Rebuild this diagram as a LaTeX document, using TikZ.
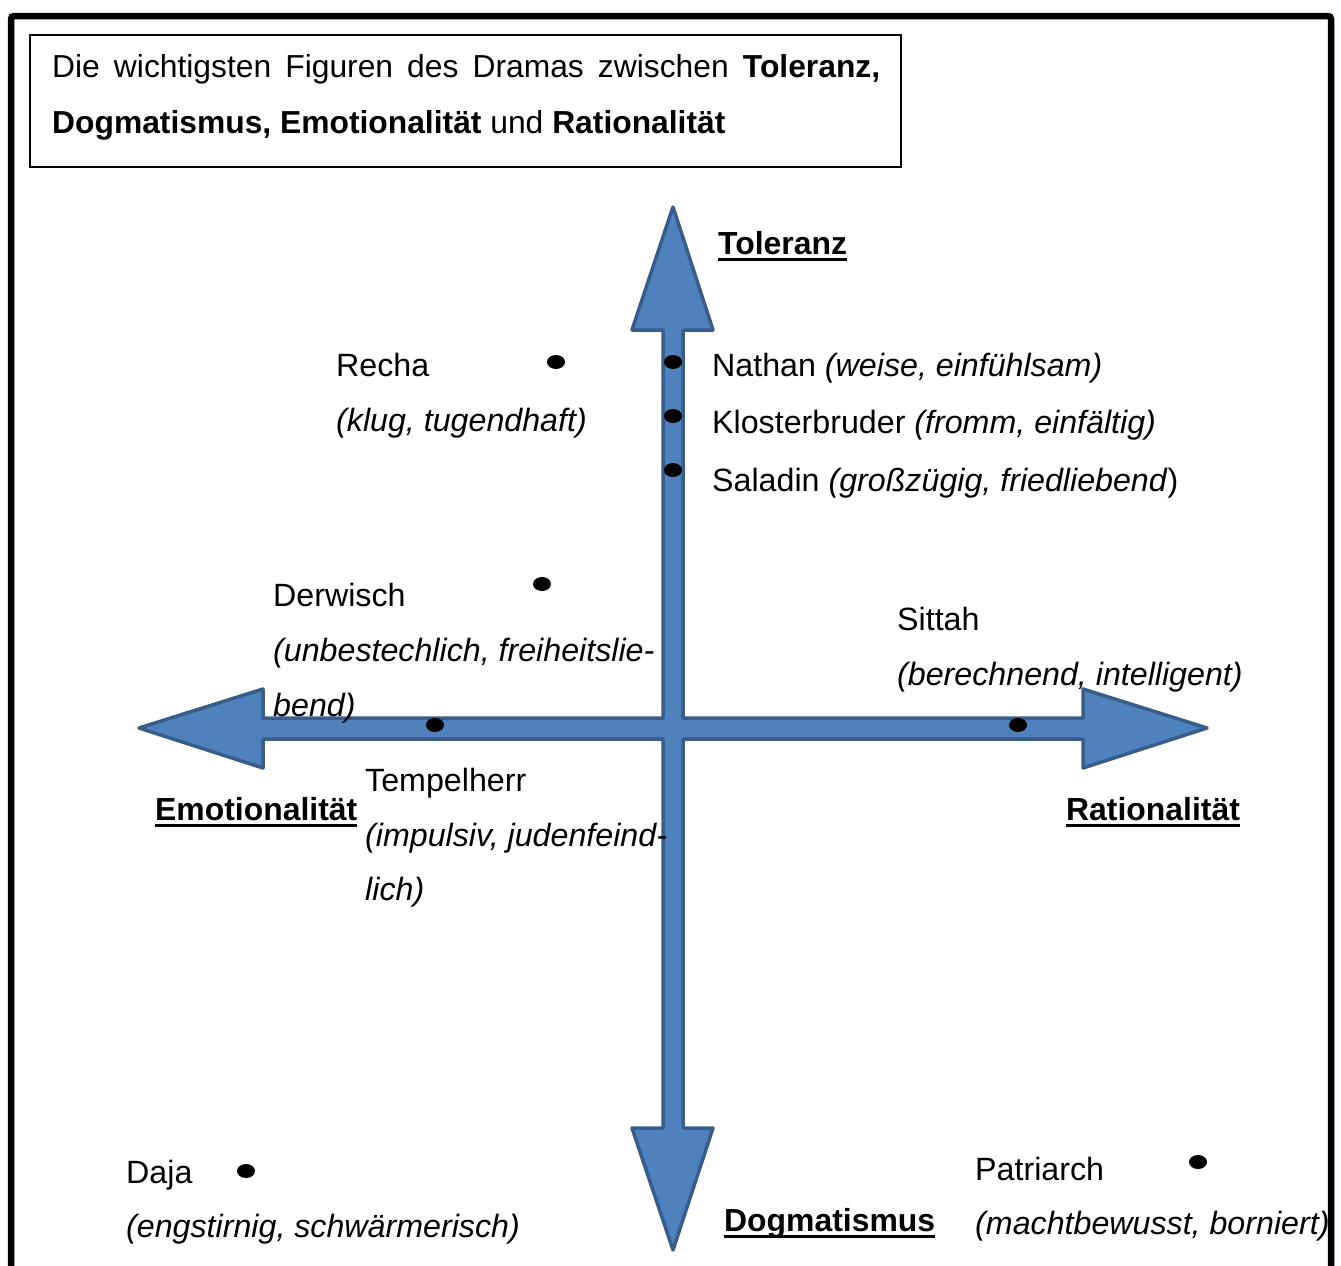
\documentclass[tikz,border=0pt]{standalone}
\usepackage{fontspec}
\setmainfont{Liberation Sans}
\definecolor{arrowfill}{HTML}{4F81BD}
\definecolor{arrowline}{HTML}{385D8A}
\tikzset{
  x=1pt, y=-1pt,
  txt/.style={anchor=base west, inner sep=0pt, font=\fontsize{32.2}{38}\selectfont},
  titletxt/.style={anchor=base west, inner sep=0pt, font=\fontsize{31.8}{38}\selectfont},
  axislbl/.style={txt, font=\fontsize{31.9}{38}\selectfont\bfseries},
  uline/.style={line width=3pt}
}
\newcommand{\mydot}[2]{\fill[black] (#1,#2) ellipse [x radius=9pt, y radius=7pt];}
\begin{document}
\begin{tikzpicture}
\useasboundingbox (0,0) rectangle (1341,1266);
\clip (0,0) rectangle (1341,1266);
\fill[white] (0,0) rectangle (1341,1266);
% outer frame
\draw[line width=6.5pt, rounded corners=3pt] (11,16) rectangle (1331,1300);
% title box
\draw[line width=1.4pt] (30,35) rectangle (901,167);
\node[titletxt] (t1) at (52,77) {\makebox[828pt][s]{Die wichtigsten Figuren des Dramas zwischen \textbf{Toleranz,}}};
\node[titletxt] (t2) at (52,133) {\textbf{Dogmatismus, Emotionalität} und \textbf{Rationalität}};
% cross arrow
\draw[fill=arrowfill, draw=arrowline, line width=3.5pt, line join=round]
  (673,207) -- (713,330) -- (683,330) -- (683,718) -- (1083,718) -- (1083,689)
  -- (1207,728) -- (1083,768) -- (1083,739) -- (683,739) -- (683,1128)
  -- (713,1128) -- (673,1250) -- (632,1128) -- (663,1128) -- (663,739)
  -- (263,739) -- (263,768) -- (139,728) -- (263,689) -- (263,718)
  -- (663,718) -- (663,330) -- (632,330) -- cycle;
% axis labels
\node[axislbl] (tol) at (718,254) {Toleranz};
\node[axislbl] (emo) at (155,820) {Emotionalität};
\node[axislbl] (rat) at (1066,820) {Rationalität};
\node[axislbl] (dog) at (724,1231) {Dogmatismus};
\foreach \n in {tol,emo,rat,dog}{
  \draw[uline] ([yshift=-5.5pt]\n.base west) -- ([yshift=-5.5pt]\n.base east);
}
% dots
\mydot{556}{362}
\mydot{673}{362}
\mydot{673}{416}
\mydot{673}{470}
\mydot{542}{584}
\mydot{435}{725}
\mydot{1018}{725}
\mydot{246}{1171}
\mydot{1198}{1162}
% figures
\node[txt] (recha) at (336,376) {Recha};
\node[txt] (recha2) at (336,431) {\textit{(klug, tugendhaft)}};
\node[txt] (nathan) at (712,376) {Nathan \textit{(weise, einfühlsam)}};
\node[txt] (kloster) at (712,433) {Klosterbruder \textit{(fromm, einfältig)}};
\node[txt] (saladin) at (712,491) {Saladin \textit{(großzügig, friedliebend})};
\node[txt] (derw) at (273,606) {Derwisch};
\node[txt] (derw2) at (273,661) {\textit{(unbestechlich, freiheitslie-}};
\node[txt] (derw3) at (273,716) {\textit{bend)}};
\node[txt] (sittah) at (897,630) {Sittah};
\node[txt] (sittah2) at (897,685) {\textit{(berechnend, intelligent)}};
\node[txt] (temp) at (365,791) {Tempelherr};
\node[txt] (temp2) at (365,846) {\textit{(impulsiv, judenfeind-}};
\node[txt] (temp3) at (365,900) {\textit{lich)}};
\node[txt] (daja) at (126,1183) {Daja};
\node[txt] (daja2) at (126,1237) {\textit{(engstirnig, schwärmerisch)}};
\node[txt] (patr) at (975,1180) {Patriarch};
\node[txt] (patr2) at (975,1234) {\textit{(machtbewusst, borniert)}};
\end{tikzpicture}
\end{document}
